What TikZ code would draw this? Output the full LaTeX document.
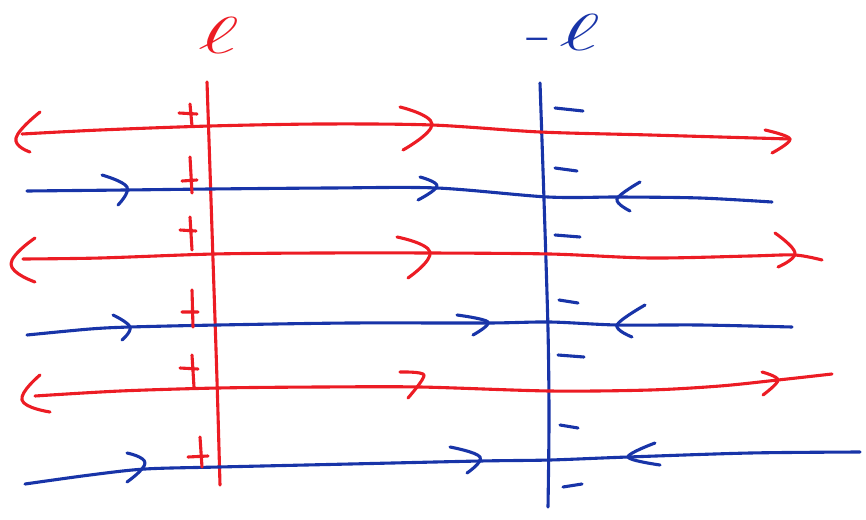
\RequirePackage{fix-cm}
\documentclass[tikz,border=0pt]{standalone}
\usepackage{graphicx}
\definecolor{penred}{RGB}{236,28,36}
\definecolor{penblue}{RGB}{24,52,168}
\begin{document}
\begin{tikzpicture}[x=1pt,y=-1pt,line cap=round,line join=round,
  rpen/.style={draw=penred,line width=3.1pt},
  bpen/.style={draw=penblue,line width=3.1pt},
  lbl/.style={inner sep=0pt,font=\fontsize{52}{52}\selectfont}]
\useasboundingbox (0,0) rectangle (866,519);
% labels
\node[lbl,text=penred] (lpos) at (219,35) {\scalebox{1.9}[1]{$\ell$}};
\node[lbl,text=penblue] (lneg) at (563,32) {\scalebox{1.6}[1]{-}\hspace{8pt}\scalebox{1.9}[1]{$\ell$}};
% vertical lines
\coordinate (ltop) at (207,82); \coordinate (lbot) at (220,485);
\coordinate (mtop) at (540,83); \coordinate (mbot) at (548,507);
\draw[rpen] plot[smooth] coordinates {(ltop) (210,170) (213,260) (217,380) (lbot)};
\draw[bpen] plot[smooth] coordinates {(mtop) (544,200) (548,330) (549,420) (mbot)};
% row 1 (red)
\draw[rpen] plot[smooth] coordinates {(22,134) (100,130) (210,126) (320,124) (432,125) (540,132) (650,135) (790,139)};
\draw[rpen] plot[smooth,tension=0.8] coordinates {(40,112) (16,138) (30,152)};
\draw[rpen] plot[smooth,tension=0.8] coordinates {(400,107) (432,124) (403,150)};
\draw[rpen] plot[smooth,tension=0.6] coordinates {(765,130) (790,139) (772,153)};
% row 2 (blue)
\draw[bpen] plot[smooth] coordinates {(27,191) (125,190) (210,189) (330,188) (437,188) (548,197) (620,197) (700,198) (772,202)};
\draw[bpen] plot[smooth,tension=0.7] coordinates {(102,175) (127,187) (118,205)};
\draw[bpen] plot[smooth,tension=0.7] coordinates {(420,177) (437,186) (418,200)};
\draw[bpen] plot[smooth,tension=0.6] coordinates {(640,182) (617,199) (630,211)};
% row 3 (red)
\draw[rpen] plot[smooth] coordinates {(23,259) (100,258) (214,254) (320,253) (430,253) (550,254) (650,258) (750,256) (795,255) (822,260)};
\draw[rpen] plot[smooth,tension=0.8] coordinates {(35,238) (11,264) (35,282)};
\draw[rpen] plot[smooth,tension=0.8] coordinates {(397,237) (430,252) (408,278)};
\draw[rpen] plot[smooth,tension=0.7] coordinates {(775,233) (795,253) (778,267)};
% row 4 (blue)
\draw[bpen] plot[smooth] coordinates {(27,335) (90,329) (130,327) (218,325) (350,323) (488,323) (550,322) (617,325) (700,325) (792,327)};
\draw[bpen] plot[smooth,tension=0.7] coordinates {(113,315) (130,327) (122,340)};
\draw[bpen] plot[smooth,tension=0.6] coordinates {(457,315) (488,322) (473,335)};
\draw[bpen] plot[smooth,tension=0.6] coordinates {(645,305) (617,325) (632,337)};
% row 5 (red)
\draw[rpen] plot[smooth] coordinates {(35,396) (120,391) (218,388) (320,387) (420,387) (550,391) (650,390) (720,386) (778,380) (832,374)};
\draw[rpen] plot[smooth,tension=0.8] coordinates {(40,375) (22,400) (50,412)};
\draw[rpen] plot[smooth,tension=0.5] coordinates {(400,372) (424,375) (408,398)};
\draw[rpen] plot[smooth,tension=0.6] coordinates {(762,372) (778,380) (763,395)};
% row 6 (blue)
\draw[bpen] plot[smooth] coordinates {(25,484) (90,475) (145,469) (219,467) (350,464) (480,461) (550,460) (628,457) (750,453) (860,452)};
\draw[bpen] plot[smooth,tension=0.8] coordinates {(127,453) (145,463) (127,482)};
\draw[bpen] plot[smooth,tension=0.7] coordinates {(450,447) (480,457) (467,473)};
\draw[bpen] plot[smooth,tension=0.6] coordinates {(655,443) (628,457) (660,465)};
% plus marks
\draw[rpen] (190,104) -- (192,126) (179,113) -- (197,114);
\draw[rpen] (190,157) -- (192,193) (182,181) -- (197,180);
\draw[rpen] (190,217) -- (192,250) (180,230) -- (196,231);
\draw[rpen] (192,290) -- (193,327) (182,312) -- (198,312);
\draw[rpen] (192,355) -- (194,387) (180,368) -- (198,369);
\draw[rpen] (200,437) -- (202,467) (188,457) -- (208,456);
% minus marks
\draw[bpen] (555,108) -- (583,111);
\draw[bpen] (555,168) -- (577,171);
\draw[bpen] (555,235) -- (580,237);
\draw[bpen] (559,300) -- (578,303);
\draw[bpen] (558,355) -- (584,357);
\draw[bpen] (560,425) -- (578,428);
\draw[bpen] (563,487) -- (582,484);
\end{tikzpicture}
\end{document}
